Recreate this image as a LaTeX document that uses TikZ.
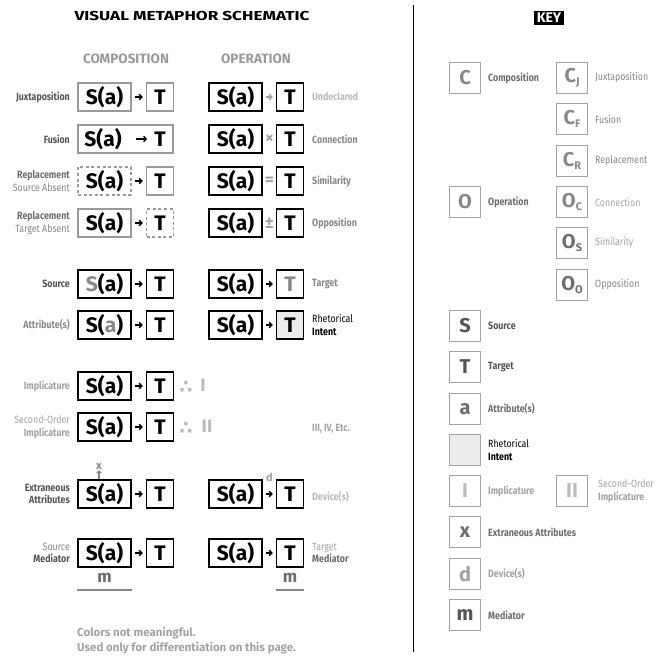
\documentclass[tikz,border=0pt]{standalone}
\usepackage{fontspec}
\usepackage{graphicx}
\setmainfont{Fira Sans}
\newfontfamily\condf[FakeStretch=0.84]{Fira Sans}
\newfontfamily\djv{DejaVu Sans}
\usetikzlibrary{arrows.meta}
\definecolor{g1}{HTML}{555555}
\definecolor{g2}{HTML}{6E6E6E}
\definecolor{g3}{HTML}{888888}
\definecolor{g4}{HTML}{A3A3A3}
\definecolor{g5}{HTML}{BBBBBB}
\definecolor{boxgray}{HTML}{9A9A9A}
\definecolor{fillgray}{HTML}{ECECEC}
\newcommand\vmBig{\fontsize{21}{21}\selectfont\bfseries}
\newcommand\vmLab{\condf\fontsize{10.5}{12.5}\selectfont}
\newcommand\vmOp{\fontsize{17}{17}\selectfont\bfseries}
\newcommand\vmKey{\fontsize{20}{20}\selectfont\bfseries}
\newcommand\vmHdr{\fontsize{13.5}{13.5}\selectfont\bfseries}
\newcommand\vmFoot{\fontsize{11.5}{12}\selectfont\bfseries}
\newcommand\vmSub[1]{{\fontsize{11}{11}\selectfont\raisebox{-3pt}{#1}}}
\begin{document}
\begin{tikzpicture}[x=1pt,y=-1pt,
  box/.style={draw=black, line width=1.5pt, minimum width=53pt, minimum height=28pt, inner sep=0pt, font=\vmBig},
  tb/.style={box, minimum width=27pt},
  gbox/.style={draw=boxgray},
  dbox/.style={draw=boxgray, dash pattern=on 3pt off 2.6pt},
  arr/.style={-{Straight Barb[length=2.6pt,width=5.5pt]}, line width=1.4pt, shorten <=3pt, shorten >=3pt},
  lab/.style={font=\vmLab, anchor=east, align=right, inner sep=0pt},
  rlab/.style={font=\vmLab, anchor=west, align=left, inner sep=0pt},
  opsym/.style={font=\vmOp, text=g4, inner sep=0pt},
  kbox/.style={draw=g4, line width=1.3pt, minimum width=31pt, minimum height=31pt, inner sep=0pt, font=\vmKey},
  klab/.style={font=\vmLab, anchor=west, align=left, inner sep=0pt},
  hdr/.style={font=\vmHdr, text=boxgray, inner sep=0pt},
  mline/.style={draw=g3, line width=1.5pt},
  therefore/.style={font=\djv\bfseries\fontsize{19}{19}\selectfont, text=g5, inner sep=0pt},
]
\useasboundingbox (0,0) rectangle (656,658);
\fill[white] (0,0) rectangle (656,658);

% titles
\node[font=\fontsize{13}{13}\selectfont\bfseries, inner sep=0pt] (title) at (192,16) {\scalebox{1.32}[1]{VISUAL METAPHOR SCHEMATIC}};
\node[fill=black, text=white, font=\fontsize{14}{14}\selectfont\bfseries, inner xsep=2.5pt, inner ysep=2pt] (key) at (549,18) {KEY};
\node[hdr] (hc) at (126,59) {COMPOSITION};
\node[hdr] (ho) at (256,59) {OPERATION};
\draw[line width=1pt] (413,5) -- (413,652);

% row 1 Juxtaposition
\node[lab, text=g1] (l1) at (70,97) {\bfseries Juxtaposition};
\node[box, gbox] (s1) at (104.5,97) {S(a)};
\node[tb, gbox] (t1) at (160,97) {T};
\draw[arr] (s1) -- (t1);
\node[box] (os1) at (235.5,97) {S(a)};
\node[tb] (ot1) at (290,97) {T};
\draw[arr, g4] (os1) -- (ot1);
\node[rlab, text=g5] (r1) at (312,97) {\bfseries Undeclared};

% row 2 Fusion
\node[lab, text=g1] (l2) at (70,139) {\bfseries Fusion};
\node[box, gbox, minimum width=95pt] (f2) at (125.5,139) {};
\node[font=\vmBig, inner sep=0pt] (fs2) at (103,139) {S(a)};
\node[font=\vmBig, inner sep=0pt] (ft2) at (160,139) {T};
\draw[arr, shorten <=14pt, shorten >=7pt] (fs2) -- (ft2);
\node[box] (os2) at (235.5,139) {S(a)};
\node[tb] (ot2) at (290,139) {T};
\node[opsym] (x2) at (269.5,139) {×};
\node[rlab, text=g3] (r2) at (312,139) {\bfseries Connection};

% row 3 Replacement source absent
\node[lab] (l3) at (70,181) {{\color{g2}\bfseries Replacement}\\{\color{g3}Source Absent}};
\node[box, dbox] (s3) at (104.5,181) {S(a)};
\node[tb, gbox] (t3) at (160,181) {T};
\draw[arr] (s3) -- (t3);
\node[box] (os3) at (235.5,181) {S(a)};
\node[tb] (ot3) at (290,181) {T};
\node[opsym] (x3) at (269.5,181) {=};
\node[rlab, text=g3] (r3) at (312,181) {\bfseries Similarity};

% row 4 Replacement target absent
\node[lab] (l4) at (70,223) {{\color{g2}\bfseries Replacement}\\{\color{g3}Target Absent}};
\node[box, gbox] (s4) at (104.5,223) {S(a)};
\node[tb, dbox] (t4) at (160,223) {T};
\draw[arr] (s4) -- (t4);
\node[box] (os4) at (235.5,223) {S(a)};
\node[tb] (ot4) at (290,223) {T};
\node[opsym] (x4) at (269.5,223) {±};
\node[rlab, text=g3] (r4) at (312,223) {\bfseries Opposition};

% row 5 Source / Target
\node[lab, text=g1] (l5) at (70,284) {\bfseries Source};
\node[box] (s5) at (104.5,284) {{\color{g3}S}(a)};
\node[tb] (t5) at (160,284) {T};
\draw[arr] (s5) -- (t5);
\node[box] (os5) at (235.5,284) {S(a)};
\node[tb] (ot5) at (290,284) {\color{g3}T};
\draw[arr] (os5) -- (ot5);
\node[rlab, text=g3] (r5) at (312,284) {\bfseries Target};

% row 6 Attributes / Rhetorical intent
\node[lab, text=g3] (l6) at (70,325) {\bfseries Attribute(s)};
\node[box] (s6) at (104.5,325) {S({\color{g3}a})};
\node[tb] (t6) at (160,325) {T};
\draw[arr] (s6) -- (t6);
\node[box] (os6) at (235.5,325) {S(a)};
\node[tb, fill=fillgray] (ot6) at (290,325) {T};
\draw[arr] (os6) -- (ot6);
\node[rlab, text=black] (r6) at (312,325) {Rhetorical\\\bfseries Intent};

% row 7 Implicature
\node[lab, text=g4] (l7) at (70,386) {\bfseries Implicature};
\node[box] (s7) at (104.5,386) {S(a)};
\node[tb] (t7) at (160,386) {T};
\draw[arr] (s7) -- (t7);
\node[therefore] (th7) at (186,387) {∴};
\node[font=\fontsize{18}{18}\selectfont\bfseries, text=g5, inner sep=0pt] (i7) at (203,385) {I};

% row 8 Second-order implicature
\node[lab] (l8) at (70,427) {{\color{g4}Second-Order}\\{\color{g4}\bfseries Implicature}};
\node[box] (s8) at (104.5,427) {S(a)};
\node[tb] (t8) at (160,427) {T};
\draw[arr] (s8) -- (t8);
\node[therefore] (th8) at (186,428) {∴};
\node[font=\fontsize{18}{18}\selectfont\bfseries, text=g5, inner sep=0pt] (i8) at (207,426) {II};
\node[rlab, text=g4] (r8) at (312,429) {\bfseries III, IV, Etc.};

% row 9 Extraneous attributes / devices
\node[lab, text=g1] (l9) at (70,494) {\bfseries Extraneous\\\bfseries Attributes};
\node[box] (s9) at (104.5,494) {S(a)};
\node[tb] (t9) at (160,494) {T};
\draw[arr] (s9) -- (t9);
\node[font=\fontsize{11}{11}\selectfont\bfseries, text=g3, inner sep=0pt] (xx9) at (99,467) {x};
\draw[-{Straight Barb[length=2.2pt,width=4.5pt]}, line width=1.2pt, draw=g3] ([xshift=-5.5pt]s9.north) -- (xx9.south);
\node[box] (os9) at (235.5,494) {S(a)};
\node[tb] (ot9) at (290,494) {T};
\draw[arr] (os9) -- (ot9);
\node[font=\fontsize{11}{11}\selectfont\bfseries, text=g4, inner sep=0pt] (d9) at (269.5,477) {d};
\node[rlab, text=g5] (r9) at (312,497) {\bfseries Device(s)};

% row 10 Mediators
\node[lab] (l10) at (70,553) {{\color{g3}Source}\\{\color{g1}\bfseries Mediator}};
\node[box] (s10) at (104.5,553) {S(a)};
\node[tb] (t10) at (160,553) {T};
\draw[arr] (s10) -- (t10);
\node[font=\fontsize{17}{17}\selectfont\bfseries, text=g2, inner sep=0pt] (m10) at (104.5,578) {m};
\draw[mline] ([yshift=-22pt]s10.south west) -- ([yshift=-22pt]s10.south east);
\node[box] (os10) at (235.5,553) {S(a)};
\node[tb] (ot10) at (290,553) {T};
\draw[arr] (os10) -- (ot10);
\node[font=\fontsize{17}{17}\selectfont\bfseries, text=g2, inner sep=0pt] (om10) at (290,578) {m};
\draw[mline] ([yshift=-22pt]ot10.south west) -- ([yshift=-22pt]ot10.south east);
\node[rlab] (r10) at (312,553) {{\color{g4}Target}\\{\color{g2}\bfseries Mediator}};

% footer
\node[anchor=west, font=\vmFoot, text=g4, inner sep=0pt] (ft1) at (77,633) {Colors not meaningful.};
\node[anchor=west, font=\vmFoot, text=g4, inner sep=0pt] (ft2b) at (77,648) {Used only for differentiation on this page.};

% KEY
\node[kbox, text=g3] (kc) at (465,78) {C};
\node[klab, text=g2] (kcl) at (488,78) {\bfseries Composition};
\node[kbox, text=g3] (kcj) at (572,78) {C\vmSub{J}};
\node[klab, text=g3] (kcjl) at (595,78) {Juxtaposition};
\node[kbox, text=g3] (kcf) at (572,119) {C\vmSub{F}};
\node[klab, text=g3] (kcfl) at (595,119) {Fusion};
\node[kbox, text=g3] (kcr) at (572,161) {C\vmSub{R}};
\node[klab, text=g3] (kcrl) at (595,161) {Replacement};
\node[kbox, text=g3] (ko) at (465,202) {O};
\node[klab, text=g2] (kol) at (488,202) {\bfseries Operation};
\node[kbox, text=g3] (koc) at (572,202) {O\vmSub{C}};
\node[klab, text=g4] (kocl) at (595,202) {Connection};
\node[kbox, text=g2] (kos) at (572,243) {O\vmSub{S}};
\node[klab, text=g4] (kosl) at (595,243) {Similarity};
\node[kbox, text=g2] (koo) at (572,285) {O\vmSub{O}};
\node[klab, text=g3] (kool) at (595,285) {Opposition};
\node[kbox, text=g1] (ks) at (465,326) {S};
\node[klab, text=g1] (ksl) at (488,326) {\bfseries Source};
\node[kbox, text=g1] (kt) at (465,367) {T};
\node[klab, text=g1] (ktl) at (488,367) {\bfseries Target};
\node[kbox, text=g2] (ka) at (465,409) {a};
\node[klab, text=g2] (kal) at (488,409) {\bfseries Attribute(s)};
\node[kbox, fill=fillgray] (kr) at (465,450) {};
\node[klab, text=black] (krl) at (488,450) {Rhetorical\\\bfseries Intent};
\node[kbox, text=g5] (ki) at (465,491) {I};
\node[klab, text=g4] (kil) at (488,491) {\bfseries Implicature};
\node[kbox, text=g5] (kii) at (572,491) {II};
\node[klab, text=g4] (kiil) at (598,491) {Second-Order\\\bfseries Implicature};
\node[kbox, text=g2] (kx) at (465,532) {x};
\node[klab, text=g2] (kxl) at (488,532) {\bfseries Extraneous Attributes};
\node[kbox, text=g4] (kd) at (465,574) {d};
\node[klab, text=g4] (kdl) at (488,574) {\bfseries Device(s)};
\node[kbox, text=g1] (km) at (465,615) {m};
\node[klab, text=g2] (kml) at (488,615) {\bfseries Mediator};
\end{tikzpicture}
\end{document}
